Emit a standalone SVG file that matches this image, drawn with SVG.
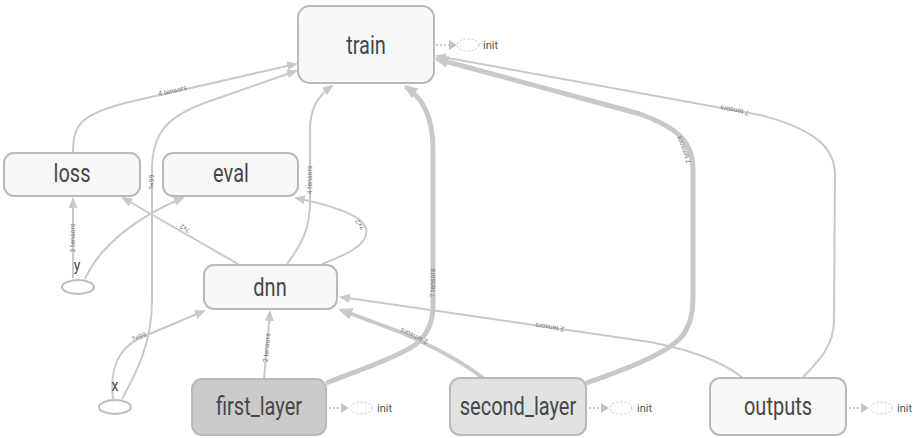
<svg xmlns="http://www.w3.org/2000/svg" width="915" height="438" viewBox="0 0 915 438">
<style>
.node{stroke:#b9b9b9;stroke-width:2}
.lbl{font-family:Roboto,"Liberation Sans",sans-serif;font-size:20px;fill:#474747;text-anchor:middle}
.e{fill:none;stroke:#c9c9c9;stroke-width:2}
.ek{fill:none;stroke:#c9c9c9;stroke-width:5}
.em{fill:none;stroke:#c9c9c9;stroke-width:4}
.el{font-family:Roboto,"Liberation Sans",sans-serif;font-size:7px;fill:#7a7a7a;text-anchor:middle}
.dot{stroke:#bdbdbd;stroke-width:1.5;stroke-dasharray:2 2;fill:none}
.tri{fill:#c4c4c4}
.iel{stroke:#c4c4c4;stroke-width:1;stroke-dasharray:2 2;fill:none}
.it{font-family:Roboto,"Liberation Sans",sans-serif;font-size:11px;fill:#555}
.ph{fill:#fff;stroke:#bdbdbd;stroke-width:2}
.pl{font-family:Roboto,"Liberation Sans",sans-serif;font-size:14px;fill:#474747;text-anchor:middle}
</style>
<defs>
<marker id="a" markerUnits="userSpaceOnUse" markerWidth="11" markerHeight="9" refX="9" refY="4.5" orient="auto"><path d="M0,0 L11,4.5 L0,9 z" fill="#c9c9c9"/></marker>
<marker id="ak" markerUnits="userSpaceOnUse" markerWidth="14" markerHeight="12" refX="11" refY="6" orient="auto"><path d="M0,0 L14,6 L0,12 z" fill="#c9c9c9"/></marker>
</defs>
<rect width="915" height="438" fill="#fff"/>
<g id="edges">
<path class="e" d="M73,153 C73,125 80,115 125,103 L296,64" marker-end="url(#a)"/>
<text class="el" transform="translate(173,93) rotate(-13)">4 tensors</text>
<path class="e" d="M122,399 C135,375 152,345 152,300 L152,170 C152,130 170,115 210,101 L296,71" marker-end="url(#a)"/>
<text class="el" transform="translate(154,182) rotate(-90)">?×99</text>
<path class="e" d="M287,264 C305,240 310,225 310,200 L310,130 C310,108 318,96 332,86" marker-end="url(#a)"/>
<text class="el" transform="translate(312,180) rotate(-90)">4 tensors</text>
<path class="e" d="M238,264 L123,198" marker-end="url(#a)"/>
<text class="el" transform="translate(186,226) rotate(210)">?×2</text>
<path class="e" d="M322,264 C345,255 370,245 366,228 C362,215 330,205 296,198" marker-end="url(#a)"/>
<text class="el" transform="translate(362,223) rotate(-125)">?×2</text>
<path class="e" d="M73,278 L73,199" marker-end="url(#a)"/>
<text class="el" transform="translate(75,238) rotate(-90)">2 tensors</text>
<path class="e" d="M85,279 C100,245 140,215 183,198" marker-end="url(#a)"/>
<path class="e" d="M113,399 C110,375 115,350 140,338 L204,311" marker-end="url(#a)"/>
<text class="el" transform="translate(140,339) rotate(-22)">?×99</text>
<path class="e" d="M264,379 L270,312" marker-end="url(#a)"/>
<text class="el" transform="translate(269,348) rotate(-85)">2 tensors</text>
<path class="ek" d="M326,383 C360,370 395,358 415,345 C428,335 433,322 433,305 L433,150 C433,115 422,98 406,87" marker-end="url(#ak)"/>
<text class="el" transform="translate(435,283) rotate(-90)">7 tensors</text>
<path class="em" d="M483,378 C460,360 430,345 400,332 L341,310" marker-end="url(#ak)"/>
<text class="el" transform="translate(415,334) rotate(205)">2 tensors</text>
<path class="ek" d="M586,383 C630,368 670,352 683,335 C691,323 693,312 693,295 L693,170 C693,140 675,127 640,114 L437,59" marker-end="url(#ak)"/>
<text class="el" transform="translate(686,149) rotate(-112)">7 tensors</text>
<path class="e" d="M743,378 C720,360 690,350 650,342 L341,297" marker-end="url(#a)"/>
<text class="el" transform="translate(550,325) rotate(188)">2 tensors</text>
<path class="e" d="M803,377 C820,360 834,345 834,320 L835,175 C835,145 810,128 760,115 L437,56" marker-end="url(#a)"/>
<text class="el" transform="translate(735,108) rotate(190.5)">7 tensors</text>
</g>
<g id="train">
<rect class="node" x="298" y="6" width="136" height="77" rx="12" fill="#f8f8f8"/>
<text class="lbl" transform="translate(366,54) scale(1,1.3)">train</text>
<path class="dot" d="M436,45 L449,45"/><path class="tri" d="M449,40 L457,45 L449,50 z"/>
<ellipse class="iel" cx="468" cy="45" rx="11" ry="6"/>
<text class="it" x="483" y="49">init</text>
</g>
<g id="loss">
<rect class="node" x="4" y="153" width="136" height="43" rx="10" fill="#f8f8f8"/>
<text class="lbl" transform="translate(72,182) scale(1,1.3)">loss</text>
</g>
<g id="eval">
<rect class="node" x="163" y="153" width="135" height="43" rx="10" fill="#f8f8f8"/>
<text class="lbl" transform="translate(231,182) scale(1,1.3)">eval</text>
</g>
<g id="dnn">
<rect class="node" x="204" y="265" width="133" height="44" rx="10" fill="#f8f8f8"/>
<text class="lbl" transform="translate(270,296) scale(1,1.3)">dnn</text>
</g>
<g id="y">
<ellipse class="ph" cx="78" cy="287" rx="16" ry="7"/>
<text class="pl" transform="translate(77,271) scale(1,1.2)">y</text>
</g>
<g id="x">
<ellipse class="ph" cx="115" cy="407" rx="16" ry="7"/>
<text class="pl" transform="translate(115,391) scale(1,1.2)">x</text>
</g>
<g id="first_layer">
<rect class="node" x="192" y="379" width="134" height="56" rx="10" fill="#cbcbcb"/>
<text class="lbl" transform="translate(259,415) scale(1,1.3)">first_layer</text>
<path class="dot" d="M329,408 L341,408"/><path class="tri" d="M341,403 L349,408 L341,413 z"/>
<ellipse class="iel" cx="361" cy="408" rx="11" ry="6"/>
<text class="it" x="377" y="412">init</text>
</g>
<g id="second_layer">
<rect class="node" x="450" y="378" width="136" height="57" rx="10" fill="#e1e3e3"/>
<text class="lbl" transform="translate(518,415) scale(1,1.3)">second_layer</text>
<path class="dot" d="M589,408 L601,408"/><path class="tri" d="M601,403 L609,408 L601,413 z"/>
<ellipse class="iel" cx="621" cy="408" rx="11" ry="6"/>
<text class="it" x="637" y="412">init</text>
</g>
<g id="outputs">
<rect class="node" x="710" y="378" width="136" height="57" rx="10" fill="#f8f8f8"/>
<text class="lbl" transform="translate(778,415) scale(1,1.3)">outputs</text>
<path class="dot" d="M849,408 L861,408"/><path class="tri" d="M861,403 L869,408 L861,413 z"/>
<ellipse class="iel" cx="881" cy="408" rx="11" ry="6"/>
<text class="it" x="897" y="412">init</text>
</g>
</svg>
